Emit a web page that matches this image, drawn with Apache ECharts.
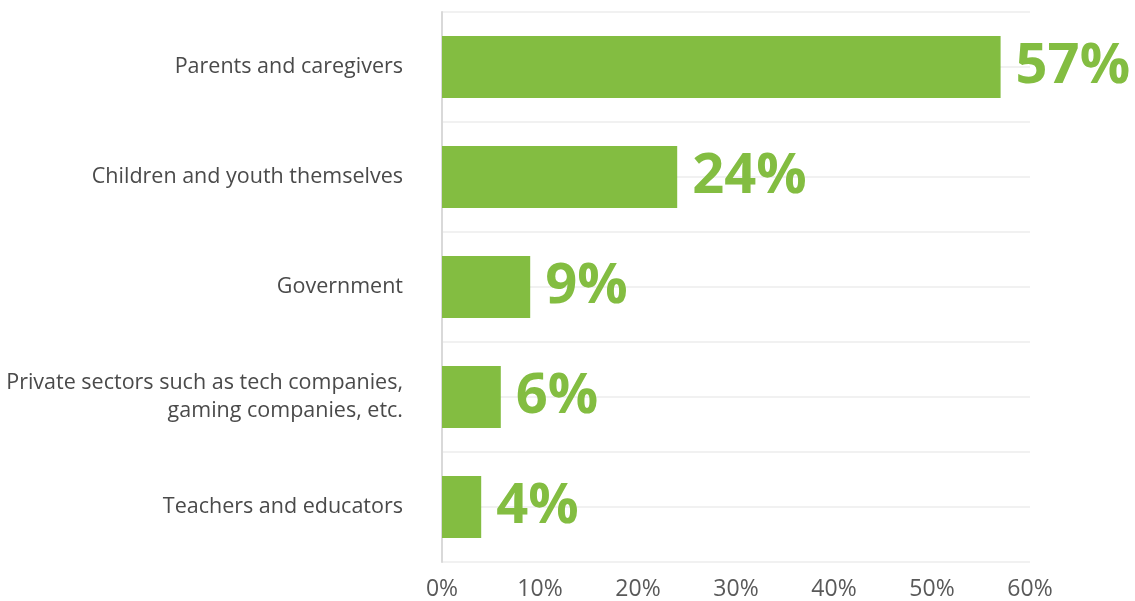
<!DOCTYPE html>
<html>
<head>
<meta charset="utf-8">
<script src="https://cdn.jsdelivr.net/npm/echarts@6/dist/echarts.min.js"></script>
<style>
  html, body { margin: 0; padding: 0; background: #ffffff; }
  #chart { width: 1135px; height: 601px; }
</style>
</head>
<body>
<div id="chart"></div>
<script>
// Who holds responsibility: share of respondents per group
const categories = [
  'Parents and caregivers',
  'Children and youth themselves',
  'Government',
  'Private sectors such as tech companies,\ngaming companies, etc.',
  'Teachers and educators'
];
const shares = [57, 24, 9, 6, 4];
const xTicks = [0, 10, 20, 30, 40, 50, 60];

const GREEN = '#83bd41';
const FONT = '"Open Sans", "Noto Sans", sans-serif';

const chart = echarts.init(document.getElementById('chart'));
chart.setOption({
  animation: false,
  backgroundColor: '#ffffff',
  grid: { left: 442, right: 105, top: 12, bottom: 39, containLabel: false },
  xAxis: {
    type: 'value',
    min: xTicks[0],
    max: xTicks[xTicks.length - 1],
    interval: xTicks[1] - xTicks[0],
    axisLine: { show: false },
    axisTick: { show: false },
    splitLine: { show: false },
    axisLabel: {
      formatter: v => v + '%',
      color: '#595959',
      fontSize: 23,
      fontFamily: FONT,
      margin: 16
    }
  },
  yAxis: [
    {
      type: 'category',
      data: categories,
      inverse: true,
      axisLine: { show: true, lineStyle: { color: '#d9d9d9', width: 2 } },
      axisTick: { show: false },
      splitLine: { show: false },
      axisLabel: {
        color: '#4a4a4a',
        fontSize: 21.5,
        fontFamily: FONT,
        margin: 39,
        align: 'right',
        lineHeight: 28
      }
    },
    {
      // light horizontal rules at every half category band
      type: 'value',
      min: 0,
      max: categories.length * 2,
      interval: 1,
      position: 'right',
      axisLine: { show: false },
      axisTick: { show: false },
      axisLabel: { show: false },
      splitLine: { show: true, lineStyle: { color: '#ececec', width: 1.5 } }
    }
  ],
  series: [{
    type: 'bar',
    yAxisIndex: 0,
    data: shares,
    barWidth: 62,
    itemStyle: { color: GREEN },
    label: {
      show: true,
      position: 'right',
      distance: 15,
      formatter: p => p.value + '%',
      color: GREEN,
      fontSize: 56,
      fontWeight: 'bold',
      fontFamily: FONT
    },
    z: 3
  }]
});
</script>
</body>
</html>
